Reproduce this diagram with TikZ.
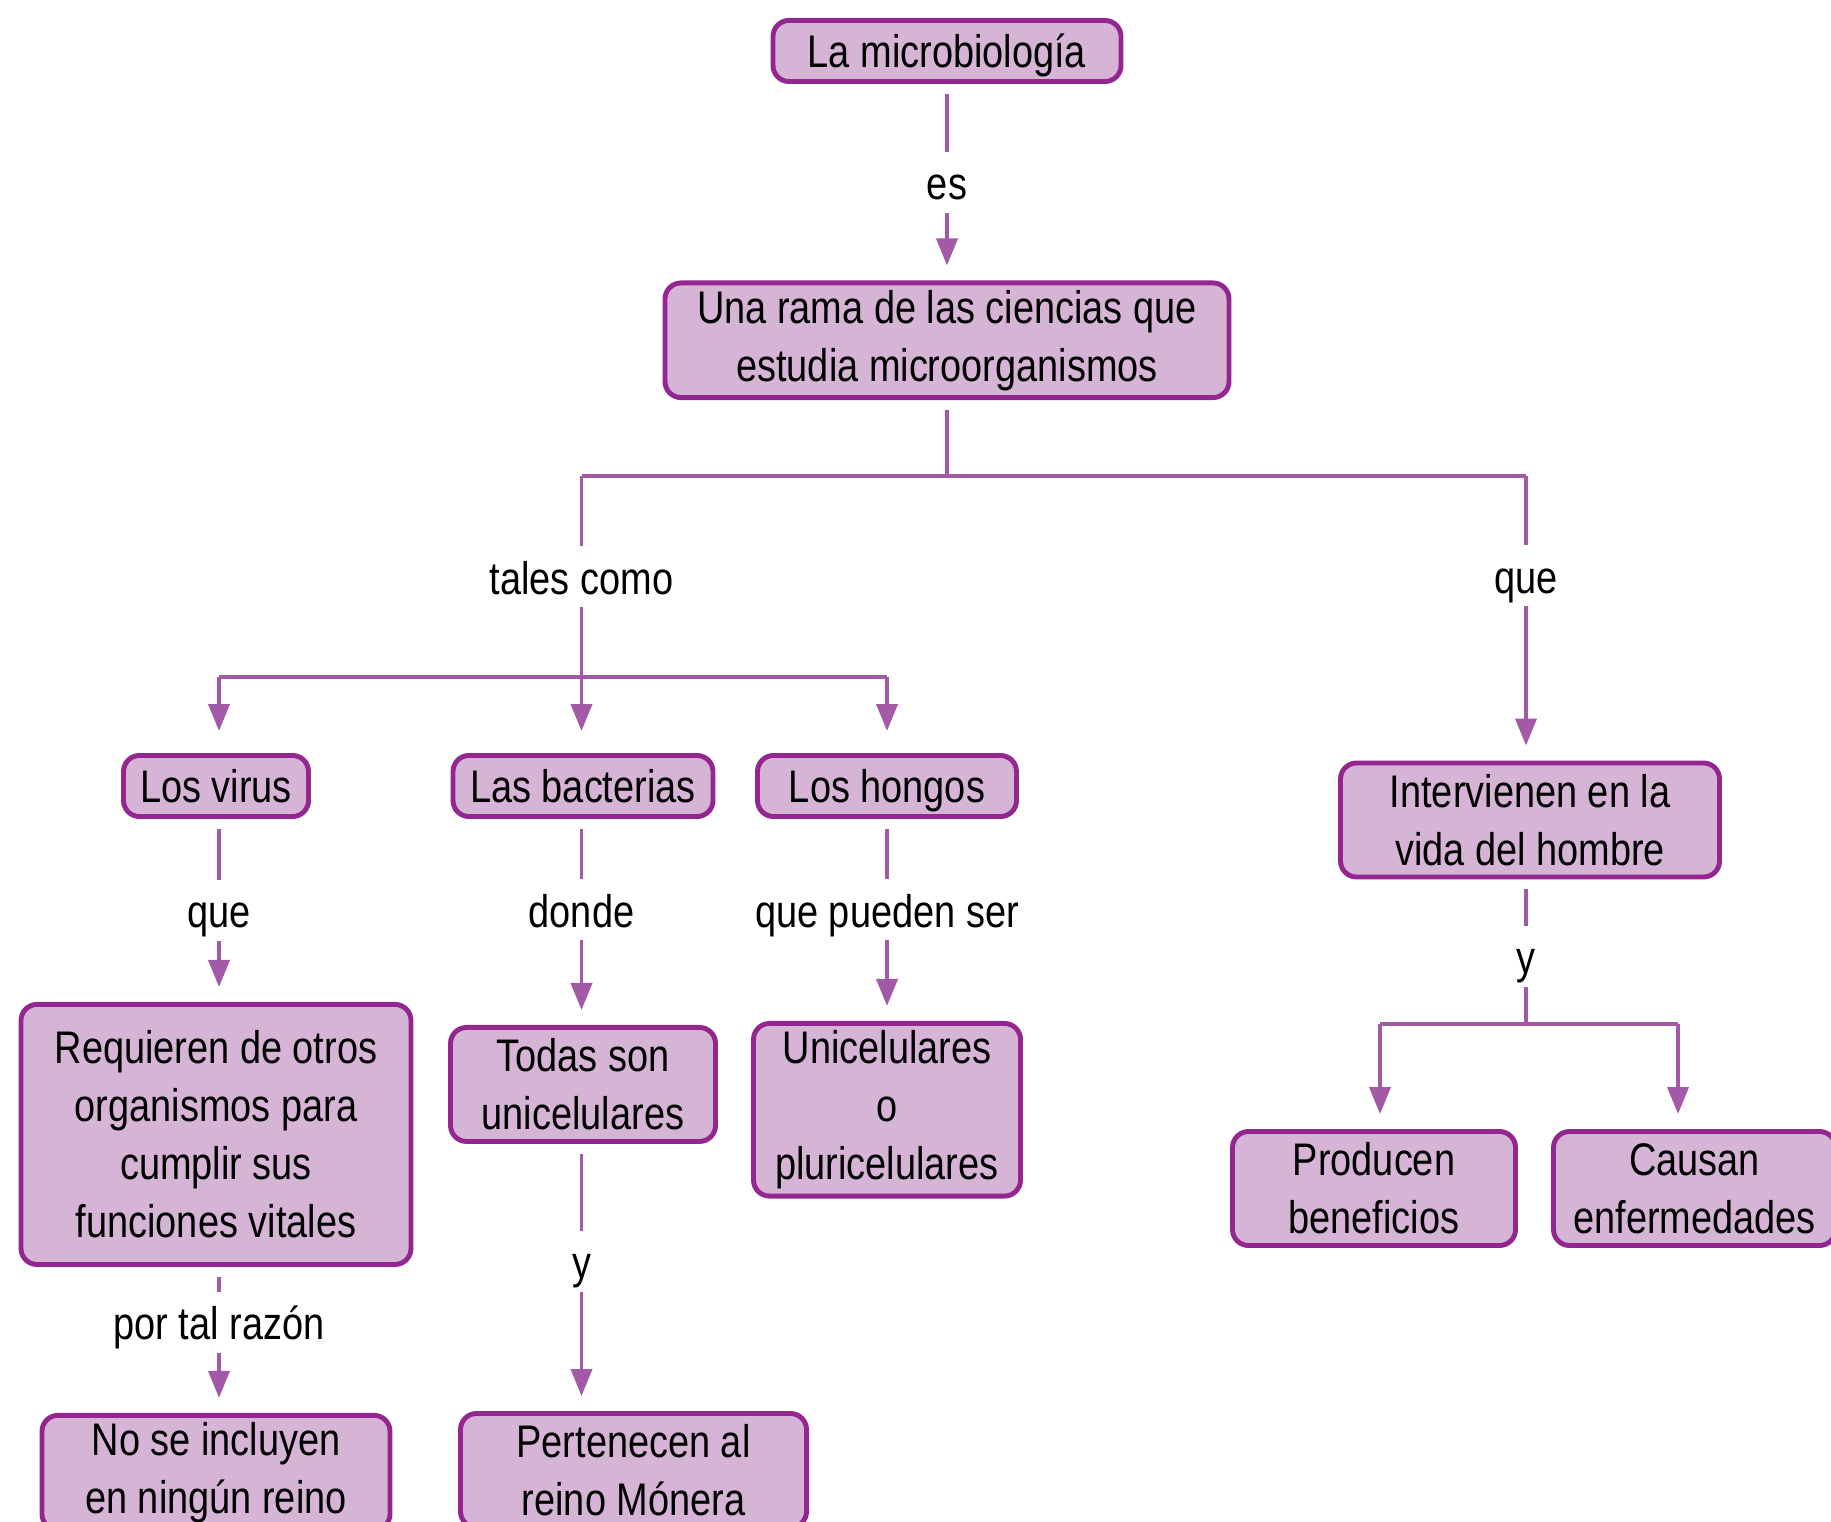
\documentclass[tikz,border=0pt]{standalone}
\usepackage{fontspec}
\setmainfont{Liberation Sans}[FakeStretch=0.83]
\usetikzlibrary{positioning,arrows.meta,calc}
\definecolor{boxline}{HTML}{93278F}
\definecolor{boxfill}{HTML}{D5B4D6}
\definecolor{linkc}{HTML}{A259A6}

\begin{document}
\begin{tikzpicture}[
        font=\fontsize{13}{16.5}\selectfont,
        box/.style={rectangle, draw=boxline, fill=boxfill, line width=1.4pt, rounded corners=0.16cm, align=center, inner sep=2pt},
        small/.style={box, minimum height=0.57cm, text height=0.40cm, text depth=0.07cm},
        big/.style={box, minimum height=1.14cm},
        conn/.style={draw=linkc, line width=1.1pt},
        arr/.style={conn, -{Triangle[length=2.7mm, width=2.1mm]}, shorten >=0.15cm},
        lgap/.style={shorten <=0.1cm},
        lbl/.style={fill=white, text height=0.38cm, text depth=0.03cm, inner xsep=1pt, inner ysep=0.1cm},
    ]
    \useasboundingbox (0,0) rectangle (18.31,-15.22);

    % ----- Top -----
    \node[small, minimum width=3.48cm] (micro) at (9.47,-0.51) {La microbiología};
    \node[big, minimum width=5.64cm, below=1.965cm of micro] (rama) {Una rama de las ciencias que\\estudia microorganismos};

    \draw[arr, lgap] (micro) -- node[lbl] {es} (rama);

    % ----- Branches -----
    \coordinate (jtop) at (9.47,-4.76);
    \coordinate (jl) at (5.815,-4.76);
    \coordinate (jr) at (15.26,-4.76);
    \coordinate (jm) at (5.815,-6.77);
    \coordinate (jml) at (2.19,-6.77);
    \coordinate (jmr) at (8.87,-6.77);

    \node[small, minimum width=1.85cm] (virus) at (2.16,-7.86) {Los virus};
    \node[small, minimum width=2.60cm] (bact) at (5.83,-7.86) {Las bacterias};
    \node[small, minimum width=2.59cm] (hongos) at (8.87,-7.86) {Los hongos};
    \node[big, minimum width=3.79cm] (interv) at (15.30,-8.20) {Intervienen en la\\vida del hombre};

    \draw[conn, lgap] (rama) -- (jtop);
    \draw[conn] (jl) -- (jr);
    \draw[conn] (jl) -- node[lbl] {tales como} (jm);
    \draw[arr] (jr) -- node[lbl, pos=0.35] {que} (jr |- interv.north);
    \draw[conn] (jml) -- (jmr);
    \draw[arr, shorten >=0.22cm] (jml) -- (jml |- virus.north);
    \draw[arr, shorten >=0.22cm] (jm) -- (jm |- bact.north);
    \draw[arr, shorten >=0.22cm] (jmr) -- (jmr |- hongos.north);

    % ----- Virus -----
    \node[box, minimum width=3.90cm, minimum height=2.60cm, below=1.83cm of virus] (requieren) {Requieren de otros\\organismos para\\cumplir sus\\funciones vitales};
    \node[big, minimum width=3.48cm, below=1.46cm of requieren] (noinc) {No se incluyen\\en ningún reino};

    \draw[arr, lgap] (jml |- virus.south) -- node[lbl] {que} (jml |- requieren.north);
    \draw[arr, lgap] (jml |- requieren.south) -- node[lbl, pos=0.38] {por tal razón} (jml |- noinc.north);

    % ----- Bacterias -----
    \node[big, minimum width=2.65cm, below=2.06cm of bact] (todas) {Todas son\\unicelulares};
    \node[big, minimum width=3.46cm] (perten) at (6.335,-14.705) {Pertenecen al\\reino Mónera};

    \draw[arr, lgap] (jm |- bact.south) -- node[lbl, pos=0.44] {donde} (jm |- todas.north);
    \draw[arr, lgap] (jm |- todas.south) -- node[lbl, pos=0.44] {y} (jm |- perten.north);

    % ----- Hongos -----
    \node[box, minimum width=2.67cm, minimum height=1.71cm, below=2.02cm of hongos] (unic) {Unicelulares\\o\\pluricelulares};

    \draw[arr, lgap] (hongos) -- node[lbl, pos=0.45] {que pueden ser} (unic);

    % ----- Hombre -----
    \coordinate (jy) at (15.26,-10.24);
    \coordinate (jyl) at (13.80,-10.24);
    \coordinate (jyr) at (16.78,-10.24);

    \node[big, minimum width=2.83cm] (producen) at (13.74,-11.885) {Producen\\beneficios};
    \node[big, minimum width=2.82cm] (causan) at (16.945,-11.885) {Causan\\enfermedades};

    \draw[conn, lgap] (jy |- interv.south) -- node[lbl, pos=0.53] {y} (jy);
    \draw[conn] (jyl) -- (jyr);
    \draw[arr] (jyl) -- (jyl |- producen.north);
    \draw[arr] (jyr) -- (jyr |- causan.north);

\end{tikzpicture}
\end{document}
